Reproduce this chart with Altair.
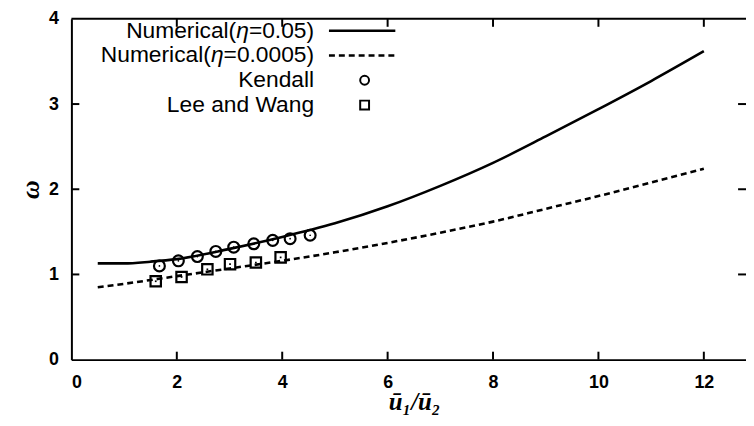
import altair as alt
import pandas as pd

# ---- data ----
u_sol = [0.5, 1, 1.5, 2, 3, 4, 5, 6, 7, 8, 9, 10, 11, 12]
w_sol = [1.13, 1.13, 1.15, 1.18, 1.30, 1.44, 1.60, 1.80, 2.04, 2.31, 2.62, 2.94, 3.27, 3.62]
u_dash = [0.5, 1, 2, 3, 4, 5, 6, 7, 8, 9, 10, 11, 12]
w_dash = [0.85, 0.89, 0.98, 1.07, 1.16, 1.26, 1.37, 1.49, 1.62, 1.77, 1.92, 2.08, 2.24]
u_kendall = [1.67, 2.03, 2.39, 2.74, 3.08, 3.46, 3.82, 4.15, 4.53]
w_kendall = [1.10, 1.16, 1.21, 1.27, 1.32, 1.36, 1.40, 1.42, 1.46]
u_lee = [1.60, 2.09, 2.58, 3.01, 3.50, 3.97]
w_lee = [0.92, 0.97, 1.06, 1.12, 1.14, 1.20]
x_ticks = [0, 2, 4, 6, 8, 10, 12]
y_ticks = [0, 1, 2, 3, 4]
x_inner_ticks = [2, 4, 6, 8, 10, 12]
y_inner_ticks = [1, 2, 3]

W, H = 681, 344
SANS = "Liberation Sans"
SERIF = "Liberation Serif"
FS = 23

xs = alt.Scale(domain=[0, 12.8], nice=False)
ys = alt.Scale(domain=[0, 4], nice=False)

xaxis = alt.Axis(values=x_ticks, format="d", tickSize=0, labelFont=SANS, labelFontSize=18,
                 labelFontWeight="bold", labelColor="black", labelPadding=14,
                 domainColor="black", domainWidth=2, grid=False,
                 title="ū₁/ū₂", titleFont=SERIF, titleFontSize=25, titleFontStyle="italic",
                 titleFontWeight="bold", titleColor="black", titleX=346, titleY=42,
                 titleBaseline="middle", titleAnchor="start", titleAlign="center")
yaxis = alt.Axis(values=y_ticks, format="d", tickSize=0, labelFont=SANS, labelFontSize=18,
                 labelFontWeight="bold", labelColor="black", labelPadding=13,
                 domainColor="black", domainWidth=2, grid=False,
                 title="ω", titleFont=SERIF, titleFontSize=26, titleFontStyle="italic",
                 titleFontWeight="bold", titleColor="black", titlePadding=5)

df_sol = pd.DataFrame({"u": u_sol, "w": w_sol})
df_dash = pd.DataFrame({"u": u_dash, "w": w_dash})
df_k = pd.DataFrame({"u": u_kendall, "w": w_kendall})
df_l = pd.DataFrame({"u": u_lee, "w": w_lee})

solid = alt.Chart(df_sol).mark_line(color="black", strokeWidth=2.6, interpolate="monotone").encode(
    x=alt.X("u:Q", scale=xs, axis=xaxis), y=alt.Y("w:Q", scale=ys, axis=yaxis))
dashed = alt.Chart(df_dash).mark_line(color="black", strokeWidth=2.6, strokeDash=[6, 4],
                                       interpolate="monotone").encode(
    x=alt.X("u:Q", scale=xs), y=alt.Y("w:Q", scale=ys))
kend = alt.Chart(df_k).mark_point(shape="circle", size=120, color="black", strokeWidth=2.2,
                                  filled=False, opacity=1).encode(
    x=alt.X("u:Q", scale=xs), y=alt.Y("w:Q", scale=ys))
kend_dot = alt.Chart(df_k).mark_point(shape="circle", size=3, color="black", filled=True,
                                      opacity=1).encode(
    x=alt.X("u:Q", scale=xs), y=alt.Y("w:Q", scale=ys))
lee = alt.Chart(df_l).mark_point(shape="square", size=110, color="black", strokeWidth=2.2,
                                 filled=False, opacity=1).encode(
    x=alt.X("u:Q", scale=xs), y=alt.Y("w:Q", scale=ys))
lee_dot = alt.Chart(df_l).mark_point(shape="square", size=3, color="black", filled=True,
                                     opacity=1).encode(
    x=alt.X("u:Q", scale=xs), y=alt.Y("w:Q", scale=ys))

# frame: top border and inward ticks
top_border = alt.Chart(pd.DataFrame({"a": [0]})).mark_rule(color="black", strokeWidth=2).encode(
    x=alt.value(0), x2=alt.value(W), y=alt.value(0))
df_xt = pd.DataFrame({"u": x_inner_ticks})
df_yt = pd.DataFrame({"w": y_inner_ticks})
tick_b = alt.Chart(df_xt).mark_rule(color="black", strokeWidth=2).encode(
    x=alt.X("u:Q", scale=xs), y=alt.value(H), y2=alt.value(H - 8))
tick_t = alt.Chart(df_xt).mark_rule(color="black", strokeWidth=2).encode(
    x=alt.X("u:Q", scale=xs), y=alt.value(0), y2=alt.value(8))
tick_l = alt.Chart(df_yt).mark_rule(color="black", strokeWidth=2).encode(
    y=alt.Y("w:Q", scale=ys), x=alt.value(0), x2=alt.value(8))
tick_r = alt.Chart(df_yt).mark_rule(color="black", strokeWidth=2).encode(
    y=alt.Y("w:Q", scale=ys), x=alt.value(W), x2=alt.value(W - 8))

# legend (pixel positions inside the plot area)
R = 245
w1 = 2.863 * FS   # width of "=0.05)"
w2 = 3.975 * FS   # width of "=0.0005)"
we = 0.556 * FS   # width of "η"
rows = [12, 37, 62, 87]
leg_txt = pd.DataFrame({
    "t": ["=0.05)", "Numerical(", "=0.0005)", "Numerical(", "Kendall", "Lee and Wang"],
    "x": [R, R - w1 - we, R, R - w2 - we, R, R],
    "y": [rows[0], rows[0], rows[1], rows[1], rows[2], rows[3]],
})
leg_text = alt.Chart(leg_txt).mark_text(align="right", baseline="middle", font=SANS,
                                        fontSize=FS, color="black").encode(
    x=alt.X("x:Q", scale=None), y=alt.Y("y:Q", scale=None), text="t:N")
leg_eta = pd.DataFrame({"t": ["η", "η"], "x": [R - w1, R - w2], "y": [rows[0], rows[1]]})
leg_eta_t = alt.Chart(leg_eta).mark_text(align="right", baseline="middle", font=SANS,
                                         fontSize=FS, fontStyle="italic", color="black").encode(
    x=alt.X("x:Q", scale=None), y=alt.Y("y:Q", scale=None), text="t:N")
leg_l1 = alt.Chart(pd.DataFrame({"a": [0]})).mark_rule(color="black", strokeWidth=2.6).encode(
    x=alt.value(260), x2=alt.value(327), y=alt.value(rows[0]))
leg_l2 = alt.Chart(pd.DataFrame({"a": [0]})).mark_rule(color="black", strokeWidth=2.6,
                                                      strokeDash=[6, 4]).encode(
    x=alt.value(260), x2=alt.value(327), y=alt.value(rows[1]))
leg_c = alt.Chart(pd.DataFrame({"a": [0]})).mark_point(shape="circle", size=80, color="black",
                                                      strokeWidth=2, filled=False,
                                                      opacity=1).encode(
    x=alt.value(296), y=alt.value(rows[2]))
leg_s = alt.Chart(pd.DataFrame({"a": [0]})).mark_point(shape="square", size=80, color="black",
                                                      strokeWidth=2, filled=False,
                                                      opacity=1).encode(
    x=alt.value(296), y=alt.value(rows[3]))

chart = alt.layer(
    solid, dashed, kend, kend_dot, lee, lee_dot,
    top_border, tick_b, tick_t, tick_l, tick_r,
    leg_text, leg_eta_t, leg_l1, leg_l2, leg_c, leg_s,
).properties(
    width=W, height=H,
    autosize=alt.AutoSizeParams(type="none"),
    padding={"left": 64, "top": 9, "right": 0, "bottom": 62},
    background="white",
).configure_view(stroke=None)

chart.save("out.html", embed_options={"renderer": "svg", "actions": False})
